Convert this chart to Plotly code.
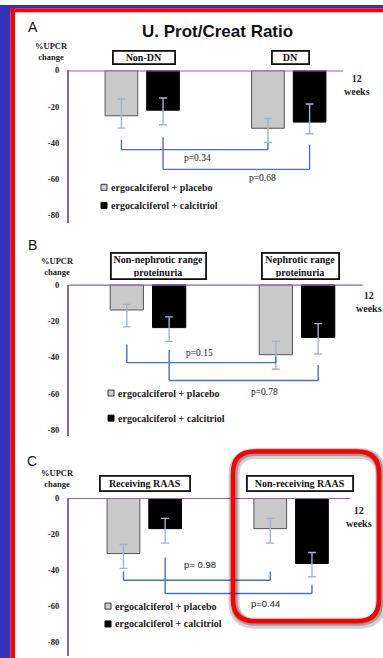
import plotly.graph_objects as go

W, H = 383, 658

# ---------------- data ----------------
groups_A = ["Non-DN", "DN"]
placebo_A = [-25.0, -31.9]
calcitriol_A = [-21.9, -28.5]
placebo_A_up = [9.3, 5.4]
placebo_A_dn = [6.8, 7.9]
calcitriol_A_up = [6.7, 10.0]
calcitriol_A_dn = [8.1, 6.4]
pvals_A = ["p=0.34", "p=0.68"]

groups_B = ["Non-nephrotic range<br>proteinuria", "Nephrotic range<br>proteinuria"]
placebo_B = [-14.0, -38.6]
calcitriol_B = [-23.7, -29.1]
placebo_B_up = [3.1, 7.3]
placebo_B_dn = [9.3, 8.0]
calcitriol_B_up = [5.9, 7.6]
calcitriol_B_dn = [7.6, 9.1]
pvals_B = ["p=0.15", "p=0.78"]

groups_C = ["Receiving RAAS", "Non-receiving RAAS"]
placebo_C = [-30.8, -17.0]
calcitriol_C = [-17.0, -36.3]
placebo_C_up = [5.2, 5.7]
placebo_C_dn = [8.2, 8.0]
calcitriol_C_up = [5.7, 6.1]
calcitriol_C_dn = [8.0, 7.3]
pvals_C = ["p= 0.98", "p=0.44"]

series_names = ["ergocalciferol + placebo", "ergocalciferol + calcitriol"]
yticks = [0, -20, -40, -60, -80]
time_label = "12<br>weeks"
title_text = "U. Prot/Creat Ratio"
ylabel = "%UPCR<br>change"

# ---------------- styles ----------------
SERIF = "Times New Roman, Liberation Serif, serif"
SANS = "Arial, Liberation Sans, sans-serif"
PURPLE = "#8766aa"
BRACKET = "#4b6fc8"
ERR = "#9fb5cf"
GRAY = "#c9c9c9"
BLUE_BG = "#3333bb"
RED = "#ff0000"

bargap = 0.432
bargroupgap = 0.215
off = (1 - bargap) / 4

def fx(x):
    return x / W

def fy(y):
    return 1 - y / H

panels = [
    dict(name="A", groups=groups_A, pl=placebo_A, ca=calcitriol_A,
         plu=placebo_A_up, pld=placebo_A_dn, cau=calcitriol_A_up, cad=calcitriol_A_dn,
         pv=pvals_A, pv_font=SERIF,
         top=66, bot=220, yr=[-84.4, 0], xr=[-0.4997, 1.643], zero_end=343,
         brackets=[(-38.2, -43.7, -40.2), (-36.9, -54.6, -41.1)],
         ppos=[(0.374, -48.2), (0.818, -59.2)],
         letter=(33, 22), ylab=(51, 47), weeks=(357, 81),
         boxes=[(143.5, 53, 58, 9), (290.7, 53, 33, 9)],
         leg=(104, 183.7, 202)),
    dict(name="B", groups=groups_B, pl=placebo_B, ca=calcitriol_B,
         plu=placebo_B_up, pld=placebo_B_dn, cau=calcitriol_B_up, cad=calcitriol_B_dn,
         pv=pvals_B, pv_font=SERIF,
         top=281.7, bot=434, yr=[-83.2, 0], xr=[-0.530, 1.577], zero_end=362.7,
         brackets=[(-33.0, -43.0, -39.7), (-36.0, -52.8, -44.3)],
         ppos=[(0.349, -37.7), (0.785, -59.2)],
         letter=(32, 242), ylab=(57, 263.5), weeks=(369, 299),
         boxes=[(158.8, 263, 91, 22), (300.3, 263, 73, 22)],
         leg=(111, 391, 416.3)),
    dict(name="C", groups=groups_C, pl=placebo_C, ca=calcitriol_C,
         plu=placebo_C_up, pld=placebo_C_dn, cau=calcitriol_C_up, cad=calcitriol_C_dn,
         pv=pvals_C, pv_font=SANS,
         top=496.7, bot=656, yr=[-87.5, 0], xr=[-0.513, 1.626], zero_end=350,
         brackets=[(-40.7, -45.6, -40.7), (-33.0, -52.9, -48.0)],
         ppos=[(0.379, -36.6), (0.827, -58.2)],
         letter=(32, 459), ylab=(57, 477), weeks=(359, 516),
         boxes=[(144.7, 482, 86, 11), (299.5, 482.5, 102, 11)],
         leg=(108, 605.7, 623.7)),
]

fig = go.Figure()
shapes = []
annotations = []
layout_axes = {}

def txt(text, x, y, font, xanchor="center", **kw):
    d = dict(text=text, x=fx(x), y=fy(y), xref="paper", yref="paper", showarrow=False,
             xanchor=xanchor, yanchor="middle", font=font)
    d.update(kw)
    return d

for i, p in enumerate(panels):
    sfx = "" if i == 0 else str(i + 1)
    xa, ya = "x" + sfx, "y" + sfx
    fig.add_trace(go.Bar(
        x=p["groups"], y=p["pl"], name=series_names[0], xaxis=xa, yaxis=ya,
        marker=dict(color=GRAY, line=dict(color="#555555", width=1)),
        error_y=dict(type="data", symmetric=False, array=p["plu"], arrayminus=p["pld"],
                     color=ERR, thickness=1.4, width=4),
        showlegend=False))
    fig.add_trace(go.Bar(
        x=p["groups"], y=p["ca"], name=series_names[1], xaxis=xa, yaxis=ya,
        marker=dict(color="#000000", line=dict(color="#000000", width=1)),
        error_y=dict(type="data", symmetric=False, array=p["cau"], arrayminus=p["cad"],
                     color=ERR, thickness=1.4, width=4),
        showlegend=False))

    layout_axes["xaxis" + sfx] = dict(
        domain=[fx(69), 1], range=p["xr"], anchor=ya, visible=False,
        type="category", categoryorder="array", categoryarray=p["groups"])
    layout_axes["yaxis" + sfx] = dict(
        domain=[fy(p["bot"]), fy(p["top"])], range=p["yr"], anchor=xa,
        showline=True, linecolor=PURPLE, linewidth=2.2, showgrid=False, zeroline=False,
        tickvals=yticks, ticktext=[str(v) for v in yticks], ticks="",
        ticklabelstandoff=6,
        tickfont=dict(family=SERIF, size=8.5, color="#222222", weight="bold"))

    # zero line
    shapes.append(dict(type="line", xref="paper", yref=ya, x0=fx(69), x1=fx(p["zero_end"]),
                       y0=0, y1=0, line=dict(color=PURPLE, width=2.2)))
    # brackets: placebo bars (group-off), calcitriol bars (group+off)
    for k, (yl, yb, yrgt) in enumerate(p["brackets"]):
        s = -off if k == 0 else off
        xl, xr_ = 0 + s, 1 + s
        for (x0, y0, x1, y1) in [(xl, yl, xl, yb), (xl, yb, xr_, yb), (xr_, yb, xr_, yrgt)]:
            shapes.append(dict(type="line", xref=xa, yref=ya, x0=x0, y0=y0, x1=x1, y1=y1,
                               line=dict(color=BRACKET, width=1.4)))
    # p values
    for t, (px_, py_) in zip(p["pv"], p["ppos"]):
        annotations.append(dict(text=t, x=px_, y=py_, xref=xa, yref=ya, showarrow=False,
                                xanchor="center", yanchor="middle",
                                font=dict(family=p["pv_font"], size=9.5, color="#222222")))
    # panel letter
    annotations.append(txt(p["name"], p["letter"][0], p["letter"][1],
                           dict(family=SANS, size=14, color="#111111")))
    # y label
    annotations.append(txt(ylabel, p["ylab"][0], p["ylab"][1],
                           dict(family=SERIF, size=8.5, color="#222222", weight="bold")))
    # 12 weeks
    annotations.append(txt(time_label, p["weeks"][0], p["weeks"][1],
                           dict(family=SERIF, size=10, color="#222222", weight="bold")))
    # category boxes
    for g, (bx, by, bw, bh) in zip(p["groups"], p["boxes"]):
        annotations.append(txt(g, bx, by,
                               dict(family=SERIF, size=10, color="#111111", weight="bold"),
                               width=bw, height=bh, borderpad=1,
                               bordercolor="#111111", borderwidth=1.8, bgcolor="white"))
    # legend (manual)
    lx, ly1, ly2 = p["leg"]
    for name, ly, fill, edge in [(series_names[0], ly1, "#d0d0d0", "#333333"),
                                 (series_names[1], ly2, "#000000", "#000000")]:
        shapes.append(dict(type="rect", xref="paper", yref="paper",
                           x0=fx(lx - 3), x1=fx(lx + 3), y0=fy(ly + 3), y1=fy(ly - 3),
                           fillcolor=fill, line=dict(color=edge, width=1)))
        annotations.append(txt(name, lx + 5, ly,
                               dict(family=SERIF, size=10, color="#222222", weight="bold"),
                               xanchor="left"))

# title
annotations.append(txt(title_text, 217, 27, dict(family=SANS, size=17, color="#111111", weight="bold")))

# highlight rounded rectangle (panel C right group) with soft shadow
def rrect(x0, y0, x1, y1, r):
    X0, X1 = fx(x0), fx(x1)
    Y0, Y1 = fy(y0), fy(y1)
    rx, ry = r / W, r / H
    return (f"M {X0+rx},{Y0} L {X1-rx},{Y0} Q {X1},{Y0} {X1},{Y0-ry} "
            f"L {X1},{Y1+ry} Q {X1},{Y1} {X1-rx},{Y1} L {X0+rx},{Y1} "
            f"Q {X0},{Y1} {X0},{Y1+ry} L {X0},{Y0-ry} Q {X0},{Y0} {X0+rx},{Y0} Z")

shapes.append(dict(type="path", xref="paper", yref="paper", path=rrect(234, 452, 381, 623, 22),
                   line=dict(color="rgba(0,0,0,0.18)", width=11), layer="above"))
shapes.append(dict(type="path", xref="paper", yref="paper", path=rrect(234, 451, 380, 622, 22),
                   line=dict(color="rgba(0,0,0,0.25)", width=7), layer="above"))
shapes.append(dict(type="path", xref="paper", yref="paper", path=rrect(233, 450, 379, 621, 22),
                   line=dict(color=RED, width=4.5), layer="above"))

# outer frame (blue background band with red border)
shapes.append(dict(type="rect", xref="paper", yref="paper", x0=0, x1=fx(10.5), y0=0, y1=1,
                   fillcolor=BLUE_BG, line=dict(width=0), layer="above"))
shapes.append(dict(type="rect", xref="paper", yref="paper", x0=0, x1=1, y0=fy(3.3), y1=1,
                   fillcolor=BLUE_BG, line=dict(width=0), layer="above"))
shapes.append(dict(type="rect", xref="paper", yref="paper", x0=fx(10.5), x1=fx(15), y0=0, y1=fy(3.3),
                   fillcolor=RED, line=dict(width=0), layer="above"))
shapes.append(dict(type="rect", xref="paper", yref="paper", x0=fx(10.5), x1=1, y0=fy(7.3), y1=fy(3.3),
                   fillcolor=RED, line=dict(width=0), layer="above"))

fig.update_layout(
    width=W, height=H, margin=dict(l=0, r=0, t=0, b=0),
    paper_bgcolor="white", plot_bgcolor="white",
    barmode="group", bargap=bargap, bargroupgap=bargroupgap,
    showlegend=False, shapes=shapes, annotations=annotations,
    **layout_axes)

fig.write_html("out.html", config={"displayModeBar": False})
